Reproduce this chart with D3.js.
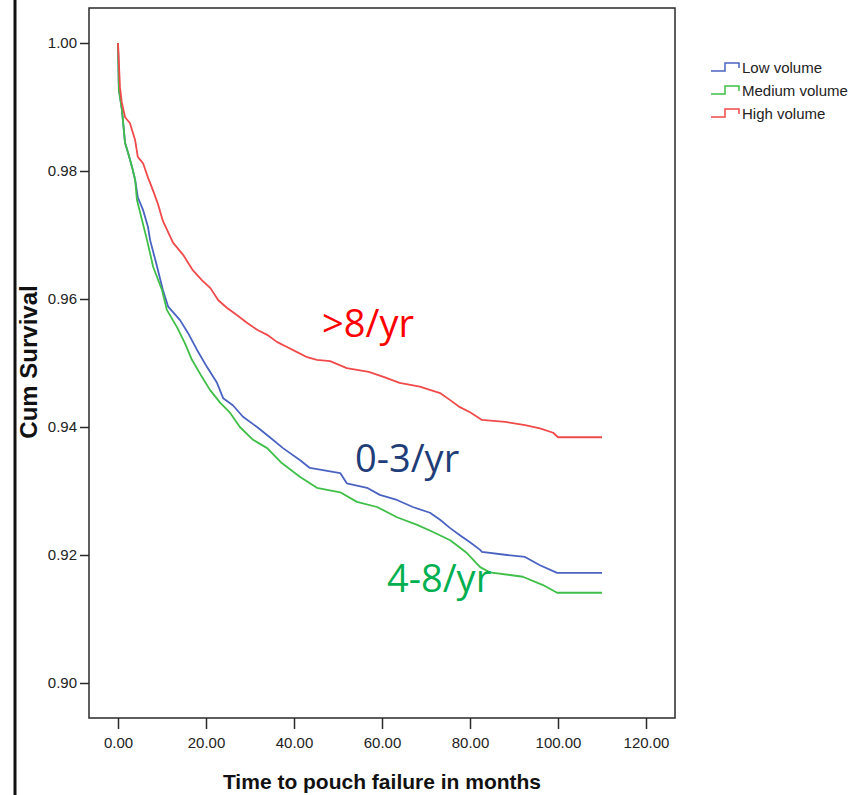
<!DOCTYPE html>
<html>
<head>
<meta charset="utf-8">
<script src="https://cdn.jsdelivr.net/npm/d3@7"></script>
<style>
  body { margin: 0; background: #fff; }
  svg { display: block; }
</style>
</head>
<body>
<script>
// survival curves (months, cum survival)
var lowTime = [0, 0.2, 0.9, 1.6, 2.3, 3.2, 3.9, 4.5, 5.7, 6.8, 7.3, 8.9, 10.2, 11.4, 14.1, 15.9, 18, 20.2, 22.5, 23.9, 26.1, 28.4, 31.6, 34.5, 37.5, 41.4, 43.6, 50.5, 52, 56.6, 59.5, 63.4, 67, 70.9, 73.2, 75.5, 77.7, 80, 82.3, 82.7, 88.4, 92.5, 95.9, 99.8, 110];
var lowSurv = [1.0, 0.9927, 0.9895, 0.9844, 0.9828, 0.9806, 0.9786, 0.9759, 0.9739, 0.9713, 0.9692, 0.965, 0.9614, 0.9588, 0.9567, 0.9547, 0.952, 0.9494, 0.9469, 0.9445, 0.9434, 0.9416, 0.94, 0.9384, 0.9367, 0.9348, 0.9336, 0.9328, 0.9312, 0.9305, 0.9294, 0.9286, 0.9275, 0.9266, 0.9255, 0.9242, 0.9231, 0.922, 0.9208, 0.9205, 0.92, 0.9197, 0.9184, 0.9172, 0.9172];

var medTime = [0, 0.2, 0.9, 1.6, 2.3, 3.2, 3.9, 4.3, 6.6, 8, 10, 11.1, 13.4, 15.2, 16.8, 19.1, 20.9, 23.2, 25.5, 27.7, 30.7, 33.9, 37, 41.4, 45.2, 50.5, 54.3, 58.9, 63.4, 68, 71.6, 75.5, 79.3, 82.3, 84.5, 92, 96.6, 99.8, 110];
var medSurv = [1.0, 0.9927, 0.9895, 0.9844, 0.9828, 0.9806, 0.9786, 0.9755, 0.9692, 0.965, 0.9614, 0.9583, 0.9556, 0.9531, 0.9505, 0.9478, 0.9458, 0.9438, 0.9422, 0.94, 0.938, 0.9367, 0.9345, 0.9322, 0.9305, 0.9298, 0.9283, 0.9275, 0.9259, 0.9247, 0.9236, 0.9223, 0.9203, 0.9181, 0.9173, 0.9166, 0.9153, 0.9141, 0.9141];

var highTime = [0, 0.45, 0.84, 1.6, 2.7, 3.9, 4.5, 5.7, 6.8, 8, 9.1, 10.2, 12.5, 14.8, 17, 19, 21, 22.8, 24.8, 27, 29.3, 31.6, 33.9, 36.1, 38.4, 40.7, 43, 45.2, 48.2, 52, 57, 60.5, 64, 68.6, 73.2, 75.5, 77.7, 80, 81.6, 82.7, 88, 92.5, 95.9, 98.9, 100, 110];
var highSurv = [1.0, 0.9931, 0.9908, 0.9884, 0.9875, 0.9848, 0.9822, 0.9812, 0.979, 0.9769, 0.9748, 0.9722, 0.9688, 0.9669, 0.9645, 0.963, 0.9617, 0.9598, 0.9586, 0.9575, 0.9563, 0.9552, 0.9544, 0.9533, 0.9525, 0.9517, 0.9509, 0.9505, 0.9503, 0.9492, 0.9486, 0.9478, 0.9469, 0.9463, 0.9453, 0.9442, 0.9431, 0.9423, 0.9416, 0.9411, 0.9408, 0.9403, 0.9398, 0.9391, 0.9384, 0.9384];

var groupNames = ["Low volume", "Medium volume", "High volume"];
var groupColors = ["#4a63c2", "#3fbf47", "#f04a4a"];
var xTicks = [0, 20, 40, 60, 80, 100, 120];
var yTicks = [0.90, 0.92, 0.94, 0.96, 0.98, 1.00];
var notes = [">8/yr", "0-3/yr", "4-8/yr"];

var W = 852, H = 795;
var frame = {left: 89, top: 8, right: 675, bottom: 718};

var svg = d3.select("body").append("svg")
    .attr("width", W)
    .attr("height", H);

// outer left rule of the slide
svg.append("line")
    .attr("x1", 15).attr("x2", 15)
    .attr("y1", 0).attr("y2", H)
    .style("stroke", "#111")
    .style("stroke-width", 3);

var x = d3.scaleLinear().domain([0, 120]).range([118, 646]);
var y = d3.scaleLinear().domain([0.90, 1.00]).range([683, 43]);

// plot frame
svg.append("rect")
    .attr("x", frame.left).attr("y", frame.top)
    .attr("width", frame.right - frame.left)
    .attr("height", frame.bottom - frame.top)
    .style("fill", "none")
    .style("stroke", "#2a2a2a")
    .style("stroke-width", 1.5);

var xAxis = svg.append("g")
    .attr("transform", `translate(0, ${frame.bottom})`)
    .call(d3.axisBottom(x).tickValues(xTicks).tickSize(11).tickPadding(8)
        .tickFormat(function(d){ return d3.format(".2f")(d); }));

var yAxis = svg.append("g")
    .attr("transform", `translate(${frame.left}, 0)`)
    .call(d3.axisLeft(y).tickValues(yTicks).tickSize(9).tickPadding(3)
        .tickFormat(d3.format(".2f")));

[xAxis, yAxis].forEach(function(a){
    a.select(".domain").remove();
    a.selectAll(".tick line").style("stroke", "#2a2a2a").style("stroke-width", 1.5);
    a.selectAll(".tick text")
        .style("font-family", "'Liberation Sans', Arial, sans-serif")
        .style("font-size", "15px")
        .style("fill", "#222");
});

// axis titles
svg.append("text")
    .attr("x", 382).attr("y", 789)
    .attr("text-anchor", "middle")
    .style("font-family", "'Liberation Sans', Arial, sans-serif")
    .style("font-weight", "bold")
    .style("font-size", "21px")
    .style("fill", "#111")
    .text("Time to pouch failure in months");

svg.append("text")
    .attr("transform", "translate(37, 362) rotate(-90)")
    .attr("text-anchor", "middle")
    .style("font-family", "'Liberation Sans', Arial, sans-serif")
    .style("font-weight", "bold")
    .style("font-size", "24px")
    .style("fill", "#111")
    .text("Cum Survival");

// curves
var series = [
    {t: lowTime, s: lowSurv},
    {t: medTime, s: medSurv},
    {t: highTime, s: highSurv}
];

var line = d3.line()
    .x(function(d){ return x(d[0]); })
    .y(function(d){ return y(d[1]); })
    .curve(d3.curveLinear);

series.forEach(function(sr, i){
    var pts = sr.t.map(function(t, k){ return [t, sr.s[k]]; });
    svg.append("path")
        .attr("d", line(pts))
        .style("fill", "none")
        .style("stroke", groupColors[i])
        .style("stroke-width", 1.8)
        .style("stroke-linejoin", "round");
});

// legend
var leg = svg.append("g").attr("transform", "translate(711, 68)");
groupNames.forEach(function(name, i){
    var gy = i * 23;
    leg.append("path")
        .attr("d", `M0 ${gy + 3} L14 ${gy + 3} L14 ${gy - 5} L28 ${gy - 5} L28 ${gy}`)
        .style("fill", "none")
        .style("stroke", groupColors[i])
        .style("stroke-width", 1.5);
    leg.append("text")
        .attr("x", 31).attr("y", gy + 5)
        .style("font-family", "'Liberation Sans', Arial, sans-serif")
        .style("font-size", "15px")
        .style("fill", "#222")
        .text(name);
});

// big annotations
var noteColors = ["#ff0000", "#1f3d78", "#00b050"];
var notePos = [[322, 337], [355, 472], [387, 592]];
notes.forEach(function(n, i){
    svg.append("text")
        .attr("x", notePos[i][0]).attr("y", notePos[i][1])
        .style("font-family", "'Open Sans', sans-serif")
        .style("font-size", "38px")
        .style("fill", noteColors[i])
        .text(n);
});
</script>
</body>
</html>
